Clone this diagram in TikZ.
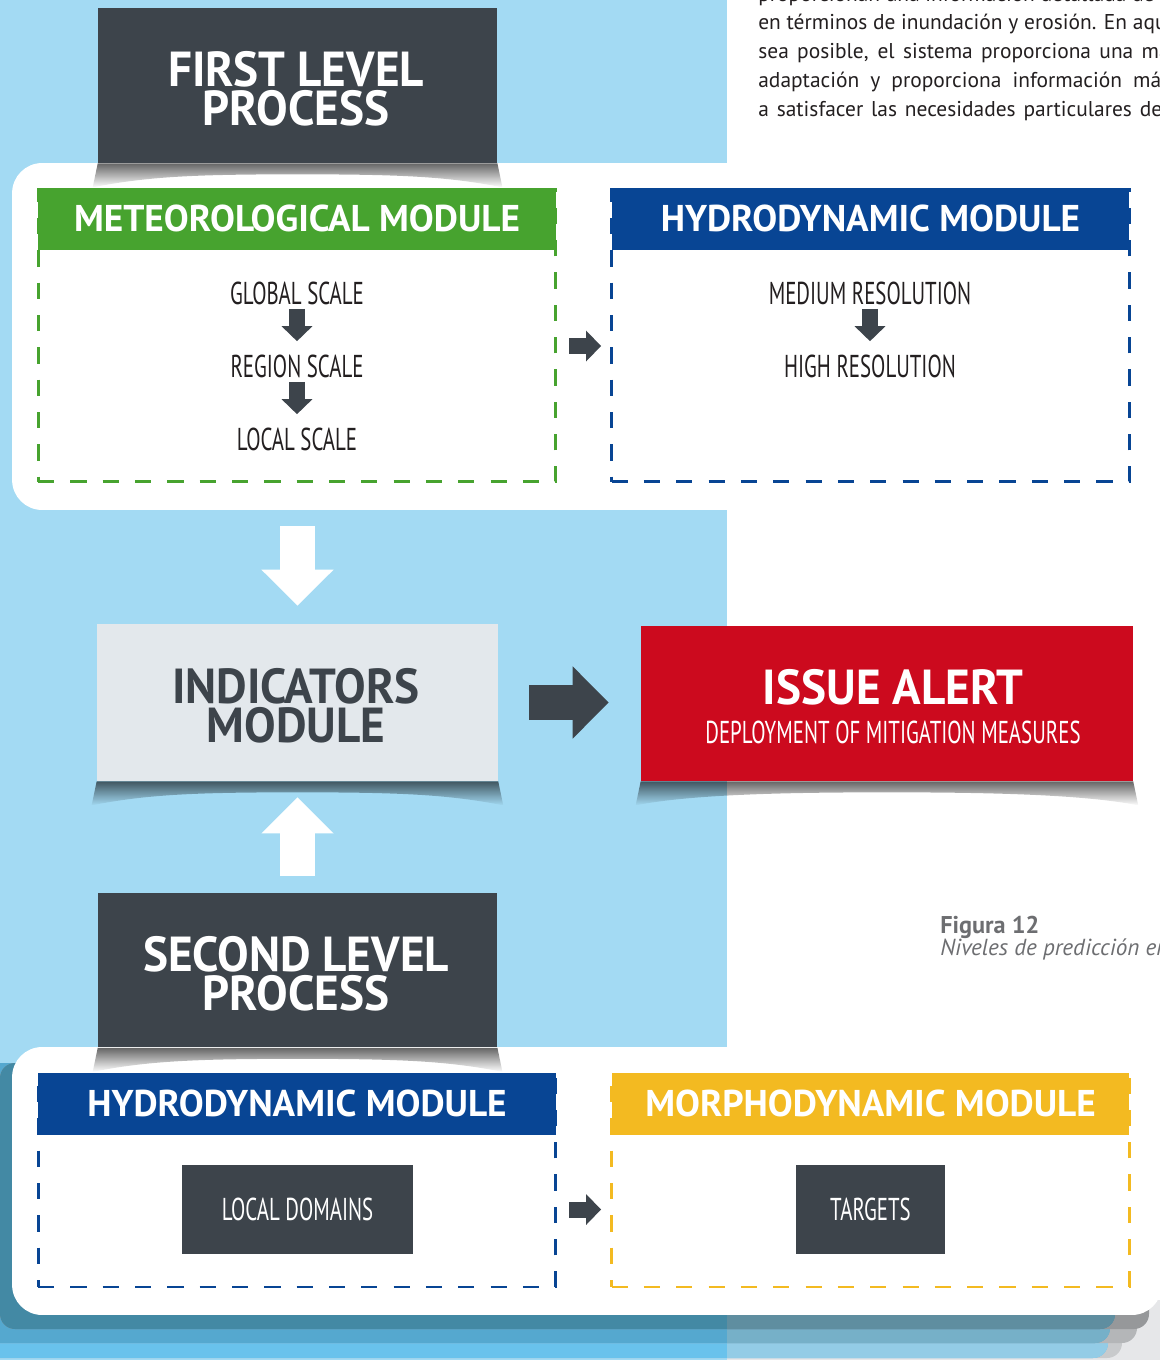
\documentclass[tikz,border=0pt]{standalone}
\usepackage{fontspec}
\setmainfont{PT Sans}
\newfontfamily\headfont[FakeStretch=0.96]{PT Sans}
\newfontfamily\narrowfont[FakeStretch=0.66]{PT Sans}
\usepackage{tikz}
\usetikzlibrary{arrows.meta,positioning,calc,fadings}
\usepackage{xcolor}
\definecolor{slate}{RGB}{61,68,75}
\definecolor{skyblue}{RGB}{163,218,243}
\definecolor{leafgreen}{RGB}{71,163,47}
\definecolor{navy}{RGB}{8,69,148}
\definecolor{amber}{RGB}{243,186,33}
\definecolor{alertred}{RGB}{204,10,30}
\definecolor{mist}{RGB}{227,232,236}
\definecolor{ink}{RGB}{35,31,32}
\definecolor{capgray}{RGB}{109,110,113}
\definecolor{pagegray}{RGB}{230,231,233}
\definecolor{layerdark}{RGB}{67,137,164}
\definecolor{layermid}{RGB}{85,168,207}
\definecolor{layerlight}{RGB}{105,194,236}
\definecolor{layerdarkr}{RGB}{95,142,160}
\definecolor{layermidr}{RGB}{118,176,200}
\definecolor{layerlightr}{RGB}{147,204,230}
\definecolor{enddark}{RGB}{150,152,154}
\definecolor{endmid}{RGB}{180,182,184}
\definecolor{endlight}{RGB}{200,202,204}
\tikzfading[name=shadowfade, top color=transparent!0, bottom color=transparent!100]
\tikzset{%
    process/.style={fill=slate, minimum width=7.98cm, minimum height=3.1cm, inner sep=0pt},
    titletext/.style={inner sep=0pt, align=center, text=white,
        font=\headfont\bfseries\fontsize{28}{22}\selectfont},
    panel/.style={fill=white, rounded corners=0.6cm, minimum width=23cm, inner sep=0pt},
    modbox/.style={draw=#1, line width=1.7pt, dash pattern=on 9.2pt off 9.2pt,
        minimum width=10.36cm, inner sep=0pt},
    modhead/.style={fill=#1, text=white, minimum width=10.36cm, minimum height=1.24cm,
        inner sep=0pt, anchor=north, font=\bfseries\fontsize{21.2}{24}\selectfont},
    scaletext/.style={inner sep=0pt, text=ink, font=\narrowfont\fontsize{18}{20}\selectfont},
    darkbox/.style={fill=slate, text=white, minimum height=1.78cm, inner sep=0pt,
        font=\narrowfont\fontsize{18}{20}\selectfont},
    bodytext/.style={anchor=base west, inner sep=0pt, text=ink, font=\fontsize{12.2}{14}\selectfont},
    smallarrow/.style={-{Triangle[width=0.6cm,length=0.3cm]}, line width=0.32cm, draw=slate},
    bigarrow/.style={-{Triangle[width=1.4cm,length=0.72cm]}, line width=0.7cm, draw=#1}
}
\newcommand{\liftshadow}[1]{%
  \fill[black, opacity=0.6, path fading=shadowfade] (#1.south west) -- (#1.south east)
    -- ($(#1.south east)+(5,24)$) .. controls ($(#1.south east)+(-50,13)$) and ($(#1.south)+(100,11)$) .. ($(#1.south)+(0,11)$)
    .. controls ($(#1.south)+(-100,11)$) and ($(#1.south west)+(50,13)$) .. ($(#1.south west)+(-5,24)$) -- cycle;}

\begin{document}
\begin{tikzpicture}[x=0.02cm,y=-0.02cm,node distance=1.46cm]
  \useasboundingbox (0,0) rectangle (1160,1360);
  \clip (0,0) rectangle (1160,1360);
  \fill[white] (0,0) rectangle (1160,1360);
  \fill[skyblue] (0,0) rectangle (727,1360);
  \fill[pagegray] (727,1300) rectangle (1160,1360);

  \node[bodytext] (line1) at (758,1) {proporcionan una información detallada de};
  \node[bodytext] (line2) at (758,29.5) {en términos de inundación y erosión. En aquellos};
  \node[bodytext] (line3) at (758,58.5) {\makebox[8.8cm][s]{sea posible, el sistema proporciona una mayor}};
  \node[bodytext] (line4) at (758,87.5) {\makebox[8.24cm][s]{adaptación y proporciona información más}};
  \node[bodytext] (line5) at (758,116.5) {\makebox[8.08cm][s]{a satisfacer las necesidades particulares de}};

  \node[panel, minimum height=6.94cm] (panel1) at (587,336.5) {};
  \node[process] (first) at (297.5,85.5) {};
  \liftshadow{first}
  \node[titletext] (firsttext) at (296,89) {FIRST LEVEL\\PROCESS};

  \node[modbox=leafgreen, minimum height=5.86cm] (meteo) at (297,335.5) {};
  \node[modhead=leafgreen] (meteohead) at (meteo.north) {METEOROLOGICAL MODULE};
  \node[scaletext] (global) at (297,293) {GLOBAL SCALE};
  \node[scaletext] (region) [below of=global] {REGION SCALE};
  \node[scaletext] (local) [below of=region] {LOCAL SCALE};
  \draw[smallarrow, shorten <=0.08cm, shorten >=0.26cm] (global) -- (region);
  \draw[smallarrow, shorten <=0.08cm, shorten >=0.26cm] (region) -- (local);

  \node[modbox=navy, minimum height=5.86cm] (hydro) at (870.5,335.5) {};
  \node[modhead=navy] (hydrohead) at (hydro.north) {HYDRODYNAMIC MODULE};
  \node[scaletext] (medium) at (870,293) {MEDIUM RESOLUTION};
  \node[scaletext] (high) [below of=medium] {HIGH RESOLUTION};
  \draw[smallarrow, shorten <=0.08cm, shorten >=0.26cm] (medium) -- (high);
  \draw[smallarrow, shorten <=0.24cm, shorten >=0.18cm] ($(meteo.east)+(0,10.5)$) -- ($(hydro.west)+(0,10.5)$);

  \node[fill=mist, minimum width=8.02cm, minimum height=3.14cm, inner sep=0pt] (indicators) at (297.5,702.5) {};
  \liftshadow{indicators}
  \node[titletext, text=slate] (indtext) at (296,706) {INDICATORS\\MODULE};
  \node[fill=alertred, minimum width=9.84cm, minimum height=3.1cm, inner sep=0pt] (alert) at (887,703.5) {};
  \liftshadow{alert}
  \node[titletext] (issue) at (893,687) {ISSUE ALERT};
  \node[scaletext, text=white] (deploy) at (893,732) {DEPLOYMENT OF MITIGATION MEASURES};
  \draw[bigarrow=white, shorten <=0.32cm, shorten >=0.36cm] (indicators |- panel1.south) -- (indicators.north);
  \draw[bigarrow=slate, shorten <=0.62cm, shorten >=0.64cm] (indicators.east) -- (indicators.east -| alert.west);

  \node[anchor=base west, inner sep=0pt, text=capgray, font=\bfseries\fontsize{13.8}{15}\selectfont] (figlabel) at (940,933) {Figura 12};
  \node[anchor=base west, inner sep=0pt, text=capgray, font=\itshape\fontsize{13.2}{15}\selectfont] (figtitle) at (940,955) {Niveles de predicción en};

  \foreach \xs/\yb/\xe/\xg/\cl/\cr/\ce in {-30/1358/1108/1122/layerlight/layerlightr/endlight,
      -30/1343/1110/1137/layermid/layermidr/endmid, 0/1329/1115/1149/layerdark/layerdarkr/enddark}{
    \fill[\ce, rounded corners=0.3cm] (\xs,1063) rectangle (\xg,\yb);
    \fill[\cl, rounded corners=0.3cm] (\xs,1063) rectangle (\xe,\yb);
    \begin{scope}
      \clip (727,1000) rectangle (1160,1360);
      \fill[\cr, rounded corners=0.3cm] (\xs,1063) rectangle (\xe,\yb);
    \end{scope}
  }
  \node[panel, minimum height=5.36cm] (panel2) at (587,1181) {};
  \node[process] (second) at (297.5,970) {};
  \liftshadow{second}
  \node[titletext] (secondtext) at (296,974) {SECOND LEVEL\\PROCESS};
  \draw[bigarrow=white, shorten <=0.32cm, shorten >=0.32cm] (second.north) -- (indicators.south);

  \node[modbox=navy, minimum height=4.26cm] (hydrotwo) at (297,1180.5) {};
  \node[modhead=navy] (hydrotwohead) at (hydrotwo.north) {HYDRODYNAMIC MODULE};
  \node[modbox=amber, minimum height=4.26cm] (morpho) at (870.5,1180.5) {};
  \node[modhead=amber] (morphohead) at (morpho.north) {MORPHODYNAMIC MODULE};
  \node[darkbox, minimum width=4.62cm] (domains) at (297.5,1209.5) {LOCAL DOMAINS};
  \node[darkbox, minimum width=2.98cm] (targets) at (870.5,1209.5) {TARGETS};
  \draw[smallarrow, shorten <=0.24cm, shorten >=0.18cm] (hydrotwo.east |- domains) -- (morpho.west |- domains);
\end{tikzpicture}
\end{document}
